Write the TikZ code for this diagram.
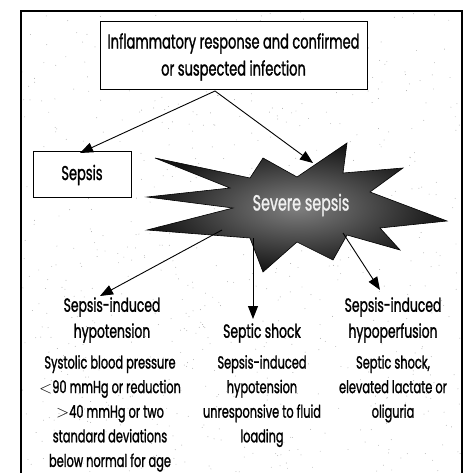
\documentclass[tikz,border=0pt]{standalone}
\usepackage{fontspec}
\usetikzlibrary{arrows.meta}
\newfontfamily\fut[FakeStretch=0.65,FakeBold=1.2]{Poppins}
\begin{document}
\begin{tikzpicture}[x=1pt,y=-1pt,
  box/.style={draw,line width=1pt,fill=white,inner sep=0pt},
  txt/.style={font=\fut\fontsize{17.5}{24.6}\selectfont,align=center,inner sep=0pt},
  head/.style={font=\fut\fontsize{19}{26}\selectfont,align=center,inner sep=0pt},
  ttl/.style={font=\fut\fontsize{20}{27}\selectfont,align=center,inner sep=0pt},
  conn/.style={line width=0.9pt,-{Triangle[length=13pt,width=10pt]}}]
\useasboundingbox (0,0) rectangle (466,473);
\fill[white] (0,0) rectangle (466,473);
% stipple background
\pgfmathsetseed{7}
\foreach \i in {1,...,800}{
  \pgfmathsetmacro\px{22+439*rnd}
  \pgfmathsetmacro\py{12+460*rnd}
  \fill[gray!65] (\px,\py) circle (0.45pt);
}
% frame (open at bottom)
\draw[line width=1.2pt] (21,473) -- (21,11) -- (462,11) -- (462,473);
% top box
\node[box,minimum width=267pt,minimum height=68pt] (top) at (233.5,56) {};
\node[ttl] (toptxt) at (233.5,57) {Inflammatory response and confirmed\\or suspected infection};
% sepsis box
\node[box,minimum width=98pt,minimum height=45pt] (sep) at (82,174.5) {};
\node[ttl] (septxt) at (82,175) {Sepsis};
% star
\shade[inner color=black!50,outer color=black!92,draw=black,line width=0.6pt]
 (155,158) -- (250,178) -- (263,158) -- (297,177) -- (347,143) -- (343,173)
 -- (403,168) -- (370,192) -- (447,221) -- (380,228) -- (400,250) -- (347,235)
 -- (333,260) -- (297,242) -- (263,272) -- (250,238) -- (147,230) -- (233,208)
 -- (147,197) -- (230,188) -- cycle;
\node[font=\fut\fontsize{22}{26}\selectfont,inner sep=0pt,text=gray!12] (sev) at (301,205) {Severe sepsis};
% connectors
\coordinate (topout) at (215,91);
\coordinate (sepin) at (80,153);
\coordinate (starin) at (313,163);
\coordinate (s1) at (222,230);
\coordinate (s2) at (253,238);
\coordinate (s3) at (343,233);
\coordinate (h1in) at (100,296);
\coordinate (h2in) at (253,319);
\coordinate (h3in) at (380,290);
\draw[conn] (topout) -- (sepin);
\draw[conn] (topout) -- (starin);
\draw[conn] (s1) -- (h1in);
\draw[conn] (s2) -- (h2in);
\draw[conn] (s3) -- (h3in);
% headings
\node[head] (h1) at (112,320) {Sepsis-induced\\hypotension};
\node[head] (h2) at (262,333) {Septic shock};
\node[head] (h3) at (393,320) {Sepsis-induced\\hypoperfusion};
% bodies
\node[txt,anchor=north] (b1) at (110,355) {Systolic blood pressure\\$<$90 mmHg or reduction\\$>$40 mmHg or two\\standard deviations\\below normal for age};
\node[txt,anchor=north] (b2) at (262,355) {Sepsis-induced\\hypotension\\unresponsive to fluid\\loading};
\node[txt,anchor=north] (b3) at (393,355) {Septic shock,\\elevated lactate or\\oliguria};
\end{tikzpicture}
\end{document}
